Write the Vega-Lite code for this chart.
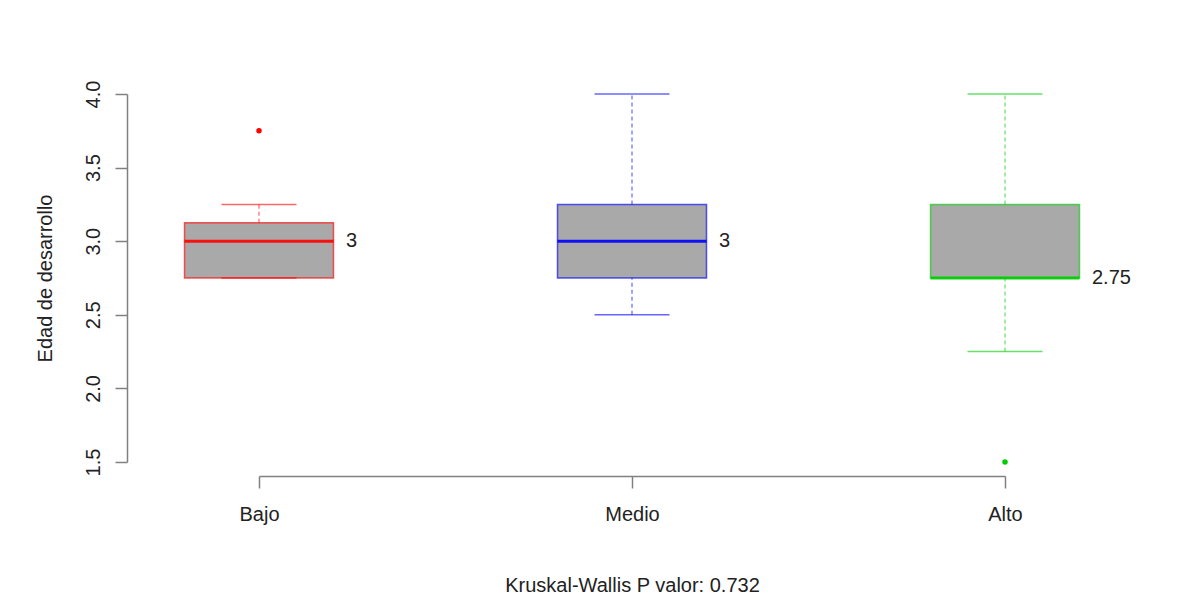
{
  "$schema": "https://vega.github.io/schema/vega-lite/v6.json",
  "width": 746,
  "height": 368,
  "autosize": {"type": "none"},
  "padding": {"left": 259, "top": 94, "right": 185, "bottom": 134},
  "background": "white",
  "config": {"view": {"stroke": null}, "font": "Liberation Sans"},
  "datasets": {
    "cajas": [
      {"grupo": "Bajo", "min": 2.75, "q1": 2.75, "mediana": 3, "q3": 3.125, "max": 3.25},
      {"grupo": "Medio", "min": 2.5, "q1": 2.75, "mediana": 3, "q3": 3.25, "max": 4},
      {"grupo": "Alto", "min": 2.25, "q1": 2.75, "mediana": 2.75, "q3": 3.25, "max": 4}
    ],
    "atipicos": [
      {"grupo": "Bajo", "valor": 3.75},
      {"grupo": "Alto", "valor": 1.5}
    ]
  },
  "data": {"name": "cajas"},
  "encoding": {
    "x": {
      "field": "grupo",
      "type": "nominal",
      "scale": {"type": "point", "domain": ["Bajo", "Medio", "Alto"], "padding": 0},
      "axis": {
        "title": "Kruskal-Wallis P valor: 0.732",
        "offset": 14,
        "tickSize": 12,
        "labelAngle": 0,
        "labelPadding": 16,
        "titlePadding": 51,
        "labelFontSize": 20,
        "titleFontSize": 20,
        "titleFontWeight": "normal",
        "labelColor": "#222222",
        "titleColor": "#222222",
        "domainColor": "#808080",
        "tickColor": "#808080",
        "domainWidth": 1.5,
        "tickWidth": 1.5,
        "grid": false
      }
    }
  },
  "layer": [
    {
      "mark": {"type": "bar", "width": 149, "fill": "#A9A9A9", "strokeWidth": 1.5, "strokeOpacity": 0.65},
      "encoding": {
        "y": {
          "field": "q1",
          "type": "quantitative",
          "scale": {"domain": [1.5, 4], "nice": false, "zero": false},
          "axis": {
            "title": "Edad de desarrollo",
            "values": [1.5, 2, 2.5, 3, 3.5, 4],
            "format": ".1f",
            "offset": 132,
            "labelAngle": -90,
            "labelAlign": "center",
            "labelBaseline": "bottom",
            "labelFlush": false,
            "labelOverlap": false,
            "tickSize": 12,
            "labelPadding": 12,
            "titlePadding": 28,
            "labelFontSize": 20,
            "titleFontSize": 20,
            "titleFontWeight": "normal",
            "labelColor": "#222222",
            "titleColor": "#222222",
            "domainColor": "#808080",
            "tickColor": "#808080",
            "domainWidth": 1.5,
            "tickWidth": 1.5,
            "grid": false
          }
        },
        "y2": {"field": "q3"},
        "stroke": {
          "field": "grupo",
          "type": "nominal",
          "scale": {"domain": ["Bajo", "Medio", "Alto"], "range": ["#FF0000", "#0000FF", "#00CD00"]},
          "legend": null
        }
      }
    },
    {
      "mark": {"type": "rule", "strokeDash": [4, 3], "strokeWidth": 1.2, "opacity": 0.6},
      "encoding": {
        "y": {"field": "q3", "type": "quantitative", "scale": {"domain": [1.5, 4], "nice": false, "zero": false}},
        "y2": {"field": "max"},
        "color": {
          "field": "grupo",
          "type": "nominal",
          "scale": {"domain": ["Bajo", "Medio", "Alto"], "range": ["#FF0000", "#0000FF", "#00CD00"]},
          "legend": null
        }
      }
    },
    {
      "mark": {"type": "rule", "strokeDash": [4, 3], "strokeWidth": 1.2, "opacity": 0.6},
      "encoding": {
        "y": {"field": "min", "type": "quantitative", "scale": {"domain": [1.5, 4], "nice": false, "zero": false}},
        "y2": {"field": "q1"},
        "color": {
          "field": "grupo",
          "type": "nominal",
          "scale": {"domain": ["Bajo", "Medio", "Alto"], "range": ["#FF0000", "#0000FF", "#00CD00"]},
          "legend": null
        }
      }
    },
    {
      "mark": {"type": "tick", "size": 75, "thickness": 1.5, "opacity": 0.6},
      "encoding": {
        "y": {"field": "max", "type": "quantitative", "scale": {"domain": [1.5, 4], "nice": false, "zero": false}},
        "color": {
          "field": "grupo",
          "type": "nominal",
          "scale": {"domain": ["Bajo", "Medio", "Alto"], "range": ["#FF0000", "#0000FF", "#00CD00"]},
          "legend": null
        }
      }
    },
    {
      "mark": {"type": "tick", "size": 75, "thickness": 1.5, "opacity": 0.6},
      "encoding": {
        "y": {"field": "min", "type": "quantitative", "scale": {"domain": [1.5, 4], "nice": false, "zero": false}},
        "color": {
          "field": "grupo",
          "type": "nominal",
          "scale": {"domain": ["Bajo", "Medio", "Alto"], "range": ["#FF0000", "#0000FF", "#00CD00"]},
          "legend": null
        }
      }
    },
    {
      "mark": {"type": "tick", "size": 149, "thickness": 3, "opacity": 0.9},
      "encoding": {
        "y": {"field": "mediana", "type": "quantitative", "scale": {"domain": [1.5, 4], "nice": false, "zero": false}},
        "color": {
          "field": "grupo",
          "type": "nominal",
          "scale": {"domain": ["Bajo", "Medio", "Alto"], "range": ["#FF0000", "#0000FF", "#00CD00"]},
          "legend": null
        }
      }
    },
    {
      "mark": {"type": "text", "align": "left", "baseline": "middle", "dx": 87, "fontSize": 20, "color": "#222222"},
      "encoding": {
        "y": {"field": "mediana", "type": "quantitative", "scale": {"domain": [1.5, 4], "nice": false, "zero": false}},
        "text": {"field": "mediana", "type": "nominal"}
      }
    },
    {
      "data": {"name": "atipicos"},
      "mark": {"type": "point", "filled": true, "size": 30, "opacity": 1},
      "encoding": {
        "y": {"field": "valor", "type": "quantitative", "scale": {"domain": [1.5, 4], "nice": false, "zero": false}},
        "color": {
          "field": "grupo",
          "type": "nominal",
          "scale": {"domain": ["Bajo", "Medio", "Alto"], "range": ["#FF0000", "#0000FF", "#00CD00"]},
          "legend": null
        }
      }
    }
  ]
}
